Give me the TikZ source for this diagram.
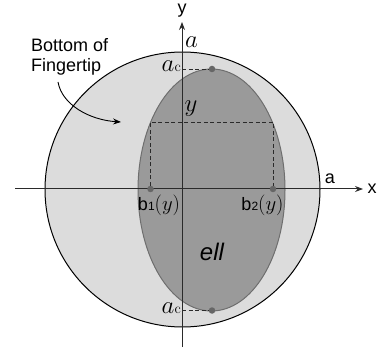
\documentclass[tikz,border=0pt]{standalone}
\usepackage[no-math]{fontspec}
\setmainfont{Liberation Sans}
\usetikzlibrary{arrows.meta}
\definecolor{discfill}{HTML}{DCDCDC}
\definecolor{ellfill}{HTML}{9A9A9A}
\definecolor{ellline}{HTML}{6E6E6E}
\definecolor{dotcol}{HTML}{666666}
\definecolor{axiscol}{HTML}{2A2A2A}
\tikzset{
  axisline/.style={draw=axiscol, line width=1pt},
  guide/.style={draw=axiscol, line width=0.9pt, dash pattern=on 4pt off 2.5pt},
  ptdot/.style={circle, fill=dotcol, inner sep=0pt, minimum size=6.5pt},
  sanslbl/.style={font=\fontsize{18}{21}\selectfont, inner sep=0pt},
  mathlbl/.style={font=\fontsize{23}{24}\selectfont, inner sep=0pt},
}
\newcommand{\acl}{{\fontsize{24}{24}\selectfont$a$}{\fontsize{15}{15}\selectfont$\mathrm{c}$}}
\begin{document}
\begin{tikzpicture}[x=1pt,y=-1pt]
\useasboundingbox (0,0) rectangle (378,350);
% disc
\fill[discfill] (182.5,189.5) circle[radius=137.5pt];
\draw[black, line width=1pt] (182.5,189.5) circle[radius=137.5pt];
% ellipse
\filldraw[fill=ellfill, draw=ellline, line width=1pt] (211.5,190) ellipse[x radius=73.5pt, y radius=121pt];
% axes
\coordinate (xs) at (15,189);
\coordinate (xe) at (363,189);
\coordinate (ys) at (182,347);
\coordinate (ye) at (182,22);
\draw[axisline, -{Stealth[length=8pt,width=6pt]}] (xs) -- (xe);
\draw[axisline, -{Stealth[length=8pt,width=6pt]}] (ys) -- (ye);
\node[sanslbl] (xl) at (372,189) {x};
\node[sanslbl] (yl) at (182,11) {y};
% dots
\node[ptdot] (top) at (212,69) {};
\node[ptdot] (bot) at (212,310.5) {};
\node[ptdot] (b1) at (150.5,189) {};
\node[ptdot] (b2) at (273,189) {};
\coordinate (ytop) at (182,69);
\coordinate (ybot) at (182,310.5);
\coordinate (r1) at (150.5,122);
\coordinate (r2) at (273,122);
% dashed guides
\draw[guide] (ytop) -- (top);
\draw[guide] (ybot) -- (bot);
\draw[guide] (b1) -- (r1) -- (r2) -- (b2);
% labels
\node[mathlbl] (la) at (191.5,42) {$a$};
\node[sanslbl] (ra) at (330,179) {a};
\node[inner sep=0pt, anchor=east] (ac1) at (181,66.5) {\acl};
\node[inner sep=0pt, anchor=east] (ac2) at (181,308.5) {\acl};
\node[mathlbl] (ly) at (191,109) {$y$};
\node[sanslbl] (lb1) at (159,205) {b\fontsize{12}{12}\selectfont 1\fontsize{21}{21}\selectfont$(y)$};
\node[sanslbl] (lb2) at (262.5,205) {b\fontsize{12}{12}\selectfont 2\fontsize{21}{21}\selectfont$(y)$};
\node[font=\fontsize{24}{24}\selectfont\itshape, inner sep=0pt] (ell) at (212,252) {ell};
\node[sanslbl, align=left, anchor=north west, font=\fontsize{18}{20}\selectfont] (bf) at (31,38) {Bottom of\\Fingertip};
% curved arrow
\coordinate (as) at (58,82);
\coordinate (ae) at (121,122);
\draw[black, line width=0.9pt, -{Stealth[length=8pt,width=6pt]}] (as) .. controls (62,105) and (90,120) .. (ae);
\end{tikzpicture}
\end{document}
